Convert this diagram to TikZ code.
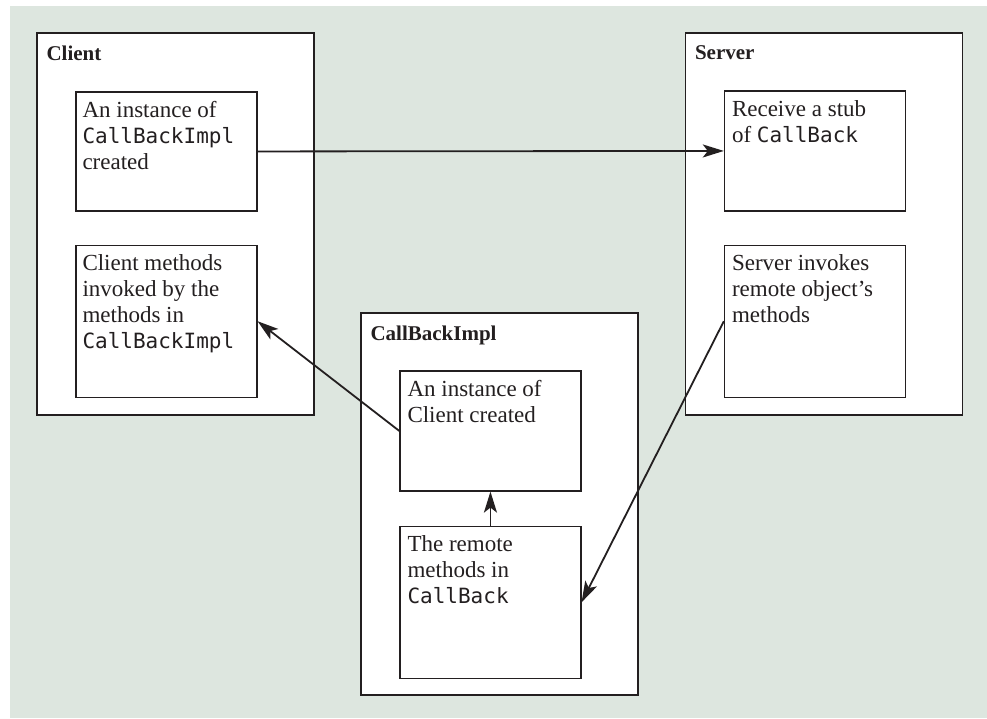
\documentclass[tikz,border=0pt]{standalone}
\usepackage{fontspec}
\setmainfont{Liberation Serif}
\setmonofont{DejaVu Sans Mono}
\usetikzlibrary{arrows.meta,positioning}
\definecolor{ink}{HTML}{231F20}
\definecolor{sage}{HTML}{DDE6DF}
\newcommand\jcode[1]{{\fontsize{21}{26}\selectfont\ttfamily #1}}

\begin{document}
\begin{tikzpicture}[
  x=1pt,y=1pt,
  font=\fontsize{23}{26}\selectfont,
  frame/.style={draw=ink,line width=1.4pt,fill=white,minimum width=277pt,
                minimum height=382pt,inner sep=0pt},
  box/.style={draw=ink,line width=1.3pt,fill=white,minimum width=181pt,
              inner sep=0pt},
  title/.style={font=\fontsize{21}{24}\selectfont\bfseries,inner sep=0pt,text=ink},
  txt/.style={inner sep=0pt,align=left,text=ink},
  arrow/.style={-{Stealth[length=21pt,width=13pt,inset=5pt]},line width=1.8pt,draw=ink}
]
\useasboundingbox (0,0) rectangle (987,718);
\fill[sage] (10,0) rectangle (987,712);

\node[frame] (client) at (175.5,494) {};
\node[frame] (server) at (824,494) {};
\node[frame] (cbimpl) at (499.5,214) {};

\node[title,below right=13pt and 10pt of client.north west] (clientname) {Client};
\node[title,below right=13pt and 10pt of server.north west] (servername) {Server};
\node[title,below right=13pt and 10pt of cbimpl.north west] (cbimplname) {CallBackImpl};

\node[box,minimum height=119pt,below right=59pt and 39pt of client.north west] (cinst) {};
\node[box,minimum height=152pt,below=33pt of cinst] (cmeth) {};
\node[box,minimum height=120pt,below right=58pt and 39pt of server.north west] (srecv) {};
\node[box,minimum height=152pt,below=33pt of srecv] (sinvoke) {};
\node[box,minimum height=120pt,below right=58pt and 39pt of cbimpl.north west] (cbinst) {};
\node[box,minimum height=152pt,below=34pt of cbinst] (cbremote) {};

\node[txt,below right=10pt and 7pt of cinst.north west] (cinsttext)
  {An instance of\\\jcode{CallBackImpl}\\created};
\node[txt,below right=10pt and 7pt of cmeth.north west] (cmethtext)
  {Client methods\\invoked by the\\methods in\\\jcode{CallBackImpl}};
\node[txt,below right=10pt and 8pt of srecv.north west] (srecvtext)
  {Receive a stub\\of \jcode{CallBack}};
\node[txt,below right=10pt and 8pt of sinvoke.north west] (sinvoketext)
  {Server invokes\\remote object’s\\methods};
\node[txt,below right=10pt and 8pt of cbinst.north west] (cbinsttext)
  {An instance of\\Client created};
\node[txt,below right=10pt and 8pt of cbremote.north west] (cbremotetext)
  {The remote\\methods in\\\jcode{CallBack}};

\draw[arrow] (cinst.east) -- (srecv.west);
\draw[arrow] (cbinst.west) -- (cmeth.east);
\draw[arrow] (cbremote.north) -- (cbinst.south);
\draw[arrow] (sinvoke.west) -- (cbremote.east);
\end{tikzpicture}
\end{document}
